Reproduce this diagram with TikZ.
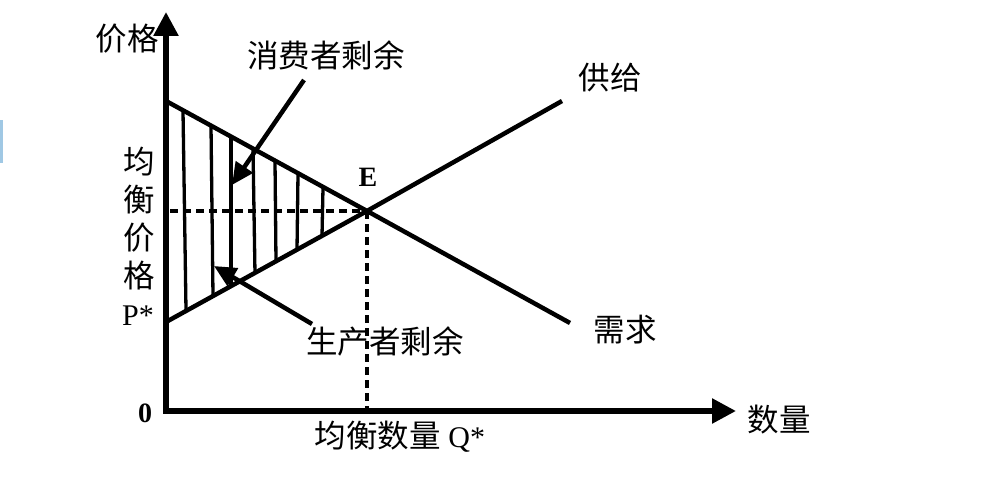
\documentclass[tikz,border=0pt]{standalone}
\usepackage{fontspec}
\setmainfont{Liberation Serif}
\newfontfamily\cjk{Noto Sans CJK SC}
\usetikzlibrary{arrows.meta}
\definecolor{edgeblue}{RGB}{160,200,228}
\tikzset{
  axis/.style={line width=5.5pt,-{Triangle[length=24pt,width=24pt]}},
  curve/.style={line width=4.5pt},
  hatchline/.style={line width=3.3pt},
  guide/.style={line width=4.5pt,dash pattern=on 8pt off 5pt},
  pointer/.style={line width=4.5pt,-{Triangle[length=22pt,width=20pt]}},
  lbl/.style={inner sep=0pt,font=\cjk\fontsize{31.5}{33}\selectfont},
  latin/.style={inner sep=0pt,font=\fontsize{30}{32}\selectfont},
  boldlbl/.style={inner sep=0pt,font=\bfseries\fontsize{28}{30}\selectfont}
}
\begin{document}
\begin{tikzpicture}[x=1pt,y=-1pt]
\useasboundingbox (0,0) rectangle (987,484);
\fill[edgeblue] (0,120) rectangle (3,163);
% key points
\coordinate (O) at (166,411);
\coordinate (ytop) at (166,12);
\coordinate (xend) at (736,411);
\coordinate (dA) at (166,101);
\coordinate (dB) at (570,323);
\coordinate (sA) at (166,322);
\coordinate (sB) at (562,101);
\coordinate (E) at (367,211);
\coordinate (pstar) at (170,211);
\coordinate (qstar) at (367,409);
% hatching
\foreach \xa/\ya/\xb/\yb in {183/111/186/310, 211/126/213/296, 231/137/231/285, 253/149/255/274, 275/161/276/262, 298/174/297/250, 323/188/322/236}{
  \draw[hatchline] (\xa,\ya) -- (\xb,\yb);
}
% dashed guides
\draw[guide] (pstar) -- (E);
\draw[guide] (E) -- (qstar);
% curves
\draw[curve] (dA) -- (E) -- (dB);
\draw[curve] (sA) -- (E) -- (sB);
% axes
\draw[axis] (166,413) -- (ytop);
\draw[axis] (163,411) -- (xend);
% labels
\node[lbl] (price) at (127,39) {价格};
\node[lbl] (qty) at (779,420) {数量};
\node[lbl] (supply) at (610,78) {供给};
\node[lbl] (demand) at (625,330) {需求};
\node[lbl] (cs) at (326,55) {消费者剩余};
\node[lbl] (ps) at (385,341) {生产者剩余};
\node[lbl] (v1) at (139,162) {均};
\node[lbl] (v2) at (139,200) {衡};
\node[lbl] (v3) at (139,238) {价};
\node[lbl] (v4) at (139,276) {格};
\node[latin] (pl) at (138,316) {P*};
\node[inner sep=0pt] (ql) at (400,437) {{\cjk\fontsize{31.5}{33}\selectfont 均衡数量}\fontsize{30}{32}\selectfont\ Q*};
\node[boldlbl] (zero) at (145,413) {0};
\node[boldlbl] (elbl) at (368,177) {E};
% pointers
\coordinate (cstip) at (232,185);
\coordinate (pstip) at (214,266);
\draw[pointer] (304,80) -- (cstip);
\draw[pointer] (312,324) -- (pstip);
\end{tikzpicture}
\end{document}
